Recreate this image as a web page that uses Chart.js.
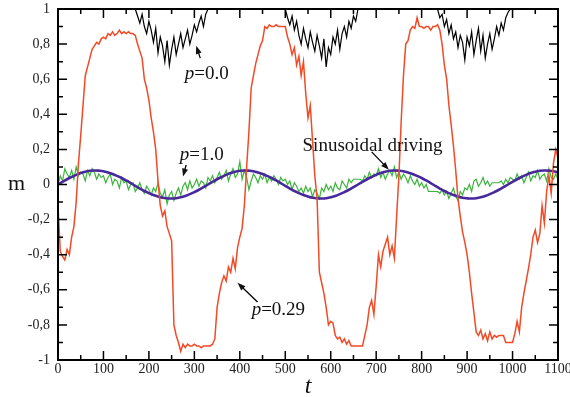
<!DOCTYPE html>
<html>
<head>
<meta charset="utf-8">
<script src="https://cdn.jsdelivr.net/npm/chart.js@4.4.1/dist/chart.umd.min.js"></script>
<style>
  html, body { margin: 0; padding: 0; background: #fff; }
  canvas { display: block; }
</style>
</head>
<body>
<canvas id="magChart" width="570" height="397"></canvas>
<script>
// time step of the noisy runs (t = 0, 5, 10 ... 1100)
const tStep = 5;
const sineStep = 10;

// p = 0.29 (red)
const redP029 = [
  -0.12, -0.38, -0.41, -0.43, -0.37, -0.40, -0.30, -0.24, -0.10, 0.12,
  0.28, 0.45, 0.62, 0.67, 0.72, 0.77, 0.79, 0.81, 0.80, 0.83,
  0.84, 0.83, 0.86, 0.85, 0.87, 0.85, 0.86, 0.88, 0.86, 0.87,
  0.86, 0.87, 0.86, 0.86, 0.85, 0.80, 0.76, 0.72, 0.60, 0.55,
  0.48, 0.38, 0.30, 0.20, 0.02, -0.12, -0.18, -0.15, -0.24, -0.28,
  -0.32, -0.80, -0.86, -0.90, -0.95, -0.91, -0.93, -0.91, -0.92, -0.92,
  -0.91, -0.92, -0.92, -0.93, -0.92, -0.92, -0.92, -0.92, -0.91, -0.88,
  -0.70, -0.62, -0.56, -0.52, -0.55, -0.47, -0.50, -0.42, -0.48, -0.36,
  -0.30, -0.25, -0.12, 0.10, 0.30, 0.55, 0.62, 0.69, 0.74, 0.79,
  0.82, 0.90, 0.89, 0.91, 0.90, 0.90, 0.91, 0.90, 0.90, 0.90,
  0.90, 0.84, 0.80, 0.74, 0.78, 0.68, 0.73, 0.62, 0.70, 0.52,
  0.38, 0.45, 0.25, 0.05, -0.08, -0.50, -0.56, -0.62, -0.70, -0.80,
  -0.78, -0.79, -0.86, -0.88, -0.87, -0.90, -0.88, -0.91, -0.89, -0.92,
  -0.92, -0.92, -0.92, -0.92, -0.92, -0.86, -0.80, -0.70, -0.66, -0.74,
  -0.58, -0.40, -0.47, -0.38, -0.34, -0.30, -0.40, -0.35, -0.42, -0.18,
  0.05, 0.36, 0.62, 0.80, 0.82, 0.88, 0.90, 0.89, 0.95, 0.90,
  0.90, 0.89, 0.90, 0.90, 0.88, 0.90, 0.90, 0.91, 0.88, 0.80,
  0.68, 0.60, 0.45, 0.34, 0.22, 0.08, -0.08, -0.18, -0.27, -0.33,
  -0.40, -0.50, -0.62, -0.73, -0.84, -0.86, -0.83, -0.88, -0.85, -0.89,
  -0.84, -0.88, -0.86, -0.87, -0.86, -0.86, -0.86, -0.90, -0.90, -0.90,
  -0.90, -0.85, -0.78, -0.84, -0.70, -0.62, -0.55, -0.48, -0.40, -0.30,
  -0.26, -0.33, -0.28, -0.12, -0.22, -0.04, 0.05, -0.05, 0.12, 0.20,
  0.15
];

// p = 1.0 (green)
const greenP10 = [
  0.00, 0.05, 0.02, 0.09, 0.06, 0.04, 0.08, 0.03, 0.10, 0.05,
  0.07, 0.06, 0.02, 0.08, 0.05, 0.09, 0.07, 0.03, 0.06, 0.04,
  0.05, 0.01, 0.04, 0.06, 0.00, 0.03, 0.02, -0.02, 0.04, 0.01,
  0.02, -0.03, 0.00, 0.01, -0.04, -0.02, 0.01, -0.03, -0.05, -0.01,
  -0.03, -0.06, -0.02, -0.04, 0.01, -0.05, -0.07, -0.03, -0.11, -0.06,
  -0.04, -0.09, -0.05, -0.02, -0.06, -0.01, 0.01, -0.03, 0.02, -0.02,
  0.00, 0.03, -0.01, 0.02, 0.01, -0.02, 0.04, 0.02, 0.05, 0.01,
  0.04, 0.07, 0.03, 0.05, 0.08, 0.02, 0.06, 0.09, 0.04, 0.06,
  0.13, 0.03, 0.08, 0.04, -0.03, 0.02, 0.06, 0.04, 0.01, 0.05,
  0.03, 0.06, 0.01, 0.04, 0.02, 0.05, 0.03, 0.00, 0.04, 0.02,
  0.03, 0.00, 0.02, -0.03, 0.01, -0.01, -0.04, -0.02, -0.05, -0.01,
  -0.04, -0.02, -0.07, -0.03, -0.05, -0.08, -0.02, -0.04, 0.00, -0.03,
  -0.01, -0.04, 0.01, -0.02, -0.03, 0.02, 0.00, -0.02, 0.03, 0.01,
  0.03, 0.03, 0.03, 0.03, 0.02, 0.05, 0.03, 0.07, 0.04, 0.06,
  0.05, 0.09, 0.04, 0.07, 0.03, 0.06, 0.08, 0.05, 0.10, 0.04,
  0.07, 0.03, 0.06, 0.04, 0.01, 0.05, 0.02, 0.00, 0.03, -0.01,
  0.01, -0.02, 0.00, -0.04, -0.04, -0.04, -0.04, -0.04, -0.05, -0.03,
  -0.06, -0.04, -0.08, -0.05, -0.02, -0.07, -0.09, -0.04, -0.06, -0.02,
  -0.03, 0.00, -0.04, 0.02, 0.03, -0.01, 0.01, 0.04, 0.00, 0.02,
  -0.01, 0.01, 0.01, 0.01, 0.01, 0.02, 0.00, 0.03, 0.01, 0.04,
  0.03, 0.02, 0.06, 0.03, 0.05, 0.01, 0.04, 0.07, 0.02, 0.05,
  0.04, 0.08, 0.03, 0.05, 0.06, 0.02, 0.09, 0.04, 0.03, 0.06,
  0.03
];

// sinusoidal driving, every 10 time units
const sineDriving = [
  0, 0.015, 0.030, 0.043, 0.055, 0.065, 0.073, 0.078, 0.080, 0.079, 0.076,
  0.069, 0.060, 0.049, 0.037, 0.023, 0.008, -0.008, -0.023, -0.037, -0.049,
  -0.060, -0.069, -0.076, -0.079, -0.080, -0.078, -0.073, -0.065, -0.055, -0.043,
  -0.030, -0.015,
  0, 0.015, 0.030, 0.043, 0.055, 0.065, 0.073, 0.078, 0.080, 0.079, 0.076,
  0.069, 0.060, 0.049, 0.037, 0.023, 0.008, -0.008, -0.023, -0.037, -0.049,
  -0.060, -0.069, -0.076, -0.079, -0.080, -0.078, -0.073, -0.065, -0.055, -0.043,
  -0.030, -0.015,
  0, 0.015, 0.030, 0.043, 0.055, 0.065, 0.073, 0.078, 0.080, 0.079, 0.076,
  0.069, 0.060, 0.049, 0.037, 0.023, 0.008, -0.008, -0.023, -0.037, -0.049,
  -0.060, -0.069, -0.076, -0.079, -0.080, -0.078, -0.073, -0.065, -0.055, -0.043,
  -0.030, -0.015,
  0, 0.015, 0.030, 0.043, 0.055, 0.065, 0.073, 0.078, 0.080, 0.079, 0.076,
  0.069
];

// p = 0.0 (black): only the dips below m = 1 are visible
const blackDipStarts = [170, 500, 835];
const blackDip1 = [
  1.00, 0.96, 0.92, 0.97, 0.90, 0.86, 0.93, 0.88, 0.81, 0.89, 0.75, 0.84, 0.79,
  0.70, 0.82, 0.68, 0.77, 0.84, 0.74, 0.80, 0.86, 0.78, 0.83, 0.88, 0.80, 0.85,
  0.91, 0.87, 0.92, 0.96, 0.90, 0.97, 1.00
];
const blackDip2 = [
  1.00, 0.95, 0.91, 0.96, 0.88, 0.93, 0.85, 0.80, 0.89, 0.83, 0.78, 0.87, 0.81,
  0.76, 0.85, 0.79, 0.72, 0.83, 0.67, 0.78, 0.74, 0.84, 0.80, 0.88, 0.77, 0.86,
  0.90, 0.84, 0.93, 0.89, 0.96, 0.93, 1.00
];
const blackDip3 = [
  1.00, 0.95, 0.97, 0.90, 0.94, 0.86, 0.91, 0.83, 0.87, 0.78, 0.85, 0.81, 0.71,
  0.84, 0.79, 0.87, 0.74, 0.82, 0.89, 0.76, 0.85, 0.72, 0.80, 0.86, 0.77, 0.83,
  0.90, 0.85, 0.92, 0.88, 0.95, 0.98, 1.00
];

const toPoints = (values, start, step) => values.map((m, i) => ({ x: start + i * step, y: m }));

const blackPoints = [];
[blackDip1, blackDip2, blackDip3].forEach((dip, k) => {
    if (k > 0) blackPoints.push({ x: blackDipStarts[k] - 1, y: null });
    blackPoints.push(...toPoints(dip, blackDipStarts[k], tStep));
});

// labels with arrows, in data coordinates (t, m)
const notes = [
    { parts: [['p', true], ['=0.0', false]], t: 279, m: 0.60, from: [313, 0.72], to: [304, 0.79] },
    { parts: [['p', true], ['=1.0', false]], t: 268, m: 0.14, from: [282, 0.112], to: [275, 0.045] },
    { parts: [['Sinusoidal driving', false]], t: 538, m: 0.192, from: [690, 0.186], to: [728, 0.084] },
    { parts: [['p', true], ['=0.29', false]], t: 426, m: -0.743, from: [439, -0.669], to: [395, -0.56] },
];

const serif = '"Liberation Serif", "DejaVu Serif", serif';

const drawArrow = (ctx, x1, y1, x2, y2) => {
    const ang = Math.atan2(y2 - y1, x2 - x1);
    ctx.beginPath();
    ctx.moveTo(x1, y1);
    ctx.lineTo(x2 - 5 * Math.cos(ang), y2 - 5 * Math.sin(ang));
    ctx.stroke();
    ctx.beginPath();
    ctx.moveTo(x2, y2);
    ctx.lineTo(x2 - 8 * Math.cos(ang) + 3 * Math.sin(ang), y2 - 8 * Math.sin(ang) - 3 * Math.cos(ang));
    ctx.lineTo(x2 - 8 * Math.cos(ang) - 3 * Math.sin(ang), y2 - 8 * Math.sin(ang) + 3 * Math.cos(ang));
    ctx.closePath();
    ctx.fill();
};

const framePlugin = {
    id: 'frame',
    afterDatasetsDraw(chart) {
        const { ctx, chartArea: a, scales: { x, y } } = chart;
        ctx.save();
        ctx.strokeStyle = '#000';
        ctx.fillStyle = '#000';

        // inward tick marks on all four sides, minor ones half way
        ctx.lineWidth = 1.5;
        ctx.beginPath();
        const xt = x.ticks.map(t => t.value);
        xt.forEach((v, i) => {
            const px = x.getPixelForValue(v);
            ctx.moveTo(px, a.bottom); ctx.lineTo(px, a.bottom - 9);
            ctx.moveTo(px, a.top); ctx.lineTo(px, a.top + 9);
            if (i < xt.length - 1) {
                const mx = x.getPixelForValue((v + xt[i + 1]) / 2);
                ctx.moveTo(mx, a.bottom); ctx.lineTo(mx, a.bottom - 5);
                ctx.moveTo(mx, a.top); ctx.lineTo(mx, a.top + 5);
            }
        });
        const yt = y.ticks.map(t => t.value);
        yt.forEach((v, i) => {
            const py = y.getPixelForValue(v);
            ctx.moveTo(a.left, py); ctx.lineTo(a.left + 9, py);
            ctx.moveTo(a.right, py); ctx.lineTo(a.right - 9, py);
            if (i < yt.length - 1) {
                const my = y.getPixelForValue((v + yt[i + 1]) / 2);
                ctx.moveTo(a.left, my); ctx.lineTo(a.left + 5, my);
                ctx.moveTo(a.right, my); ctx.lineTo(a.right - 5, my);
            }
        });
        ctx.stroke();

        ctx.lineWidth = 2;
        ctx.strokeRect(a.left, a.top, a.right - a.left, a.bottom - a.top);

        // axis titles
        ctx.fillStyle = '#111';
        ctx.textBaseline = 'alphabetic';
        ctx.textAlign = 'left';
        ctx.font = '22px ' + serif;
        ctx.fillText('m', 8, y.getPixelForValue(0) + 5);
        ctx.textAlign = 'center';
        ctx.font = 'italic 24px ' + serif;
        ctx.fillText('t', x.getPixelForValue(550), 393);

        // annotations
        ctx.textAlign = 'left';
        ctx.lineWidth = 1.3;
        notes.forEach(n => {
            let px = x.getPixelForValue(n.t);
            const py = y.getPixelForValue(n.m);
            n.parts.forEach(([txt, ital]) => {
                ctx.font = (ital ? 'italic ' : '') + '19px ' + serif;
                ctx.fillText(txt, px, py);
                px += ctx.measureText(txt).width;
            });
            drawArrow(ctx,
                x.getPixelForValue(n.from[0]), y.getPixelForValue(n.from[1]),
                x.getPixelForValue(n.to[0]), y.getPixelForValue(n.to[1]));
        });
        ctx.restore();
    }
};

const ctx = document.getElementById('magChart').getContext('2d');

new Chart(ctx, {
    type: 'line',
    data: {
        datasets: [
            {
                label: 'p=0.29',
                data: toPoints(redP029, 0, tStep),
                borderColor: '#f24a26',
                borderWidth: 1.5,
                order: 0
            },
            {
                label: 'Sinusoidal driving',
                data: toPoints(sineDriving, 0, sineStep),
                borderColor: '#47299b',
                borderWidth: 2.6,
                tension: 0.4,
                order: 1
            },
            {
                label: 'p=1.0',
                data: toPoints(greenP10, 0, tStep),
                borderColor: '#3cb43c',
                borderWidth: 1.2,
                order: 2
            },
            {
                label: 'p=0.0',
                data: blackPoints,
                borderColor: '#000',
                borderWidth: 1.2,
                order: 3
            }
        ]
    },
    options: {
        responsive: false,
        animation: false,
        devicePixelRatio: 1,
        layout: { padding: { left: 0, right: 12, top: 9, bottom: 0 } },
        elements: { point: { radius: 0 }, line: { tension: 0 } },
        plugins: { legend: { display: false }, tooltip: { enabled: false } },
        scales: {
            x: {
                type: 'linear',
                min: 0,
                max: 1100,
                grid: { display: false, drawTicks: false },
                border: { display: false },
                ticks: {
                    stepSize: 100,
                    padding: 1,
                    maxRotation: 0,
                    autoSkip: false,
                    color: '#222',
                    font: { family: serif, size: 14 },
                    callback: (v) => String(v)
                },
                afterFit: (scale) => {
                    scale.height = 37;
                    scale.paddingLeft = 0;
                    scale.paddingRight = 0;
                }
            },
            y: {
                min: -1,
                max: 1,
                grid: { display: false, drawTicks: false },
                border: { display: false },
                ticks: {
                    stepSize: 0.2,
                    padding: 8,
                    color: '#222',
                    font: { family: serif, size: 14 },
                    callback: (v) => String(Math.round(v * 10) / 10).replace('.', ',')
                },
                afterFit: (scale) => {
                    scale.width = 58;
                    scale.paddingTop = 0;
                    scale.paddingBottom = 0;
                }
            }
        }
    },
    plugins: [framePlugin]
});
</script>
</body>
</html>
